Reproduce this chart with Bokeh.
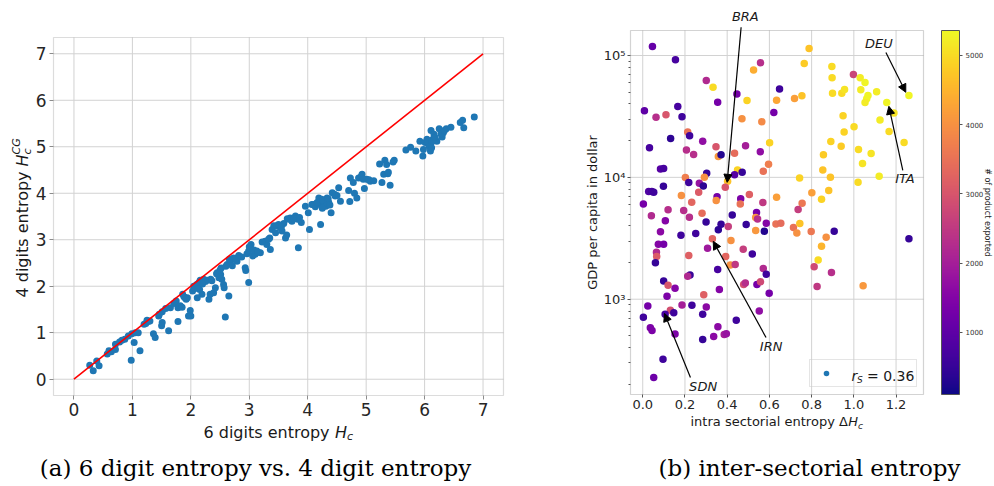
import math
from bokeh.plotting import figure
from bokeh.layouts import row
from bokeh.models import (ColumnDataSource, LinearColorMapper, ColorBar, FixedTicker,
                          Label, Arrow, NormalHead, Legend, LegendItem, Range1d,
                          CustomJSTickFormatter, BoxAnnotation)
from bokeh.palettes import Plasma256
from bokeh.embed import file_html
from bokeh.resources import INLINE

# ---------------- panel (a): 6 digit vs 4 digit entropy ----------------
hc6 = [0.27, 0.33, 0.39, 0.43, 0.57, 0.60, 0.71, 0.71, 0.87, 0.93, 0.99, 1.03, 0.98, 1.05,
       1.10, 1.13, 1.20, 1.25, 1.30, 1.36, 1.39, 1.45, 1.51, 1.51, 1.50, 1.62, 1.65, 1.71,
       1.75, 1.78, 1.78, 1.82, 1.86, 1.90, 1.85, 1.94, 1.96, 2.00, 1.99, 2.03, 2.06, 2.10,
       2.14, 2.16, 2.19, 2.11, 2.15, 2.22, 2.28, 2.31, 2.33, 2.34, 2.39, 2.42, 2.45, 2.48,
       2.51, 2.53, 2.52, 2.56, 2.57, 2.59, 2.65, 2.62, 2.68, 2.71, 2.73, 2.79, 2.87, 2.93,
       2.94, 2.96, 2.99, 2.99, 3.03, 3.06, 3.10, 3.13, 3.19, 3.27, 3.30, 3.35, 3.36, 3.39,
       3.42, 3.45, 3.47, 3.53, 3.56, 3.59, 3.62, 3.64, 3.65, 3.70, 3.73, 3.79, 3.83, 3.84,
       3.89, 3.96, 4.01, 4.03, 4.07, 4.13, 4.19, 4.21, 4.22, 4.24, 4.27, 4.30, 4.33, 4.36,
       4.40, 4.42, 4.47, 4.53, 4.56, 4.70, 4.72, 4.73, 4.78, 4.80, 4.84, 4.87, 4.93, 4.97,
       5.01, 5.07, 5.13, 5.23, 5.27, 5.30, 5.32, 5.35, 5.37, 5.41, 5.46, 5.48, 5.68, 5.76,
       5.85, 5.92, 5.97, 5.98, 6.01, 6.04, 6.07, 6.10, 6.11, 6.14, 6.16, 6.21, 6.25, 6.30,
       6.32, 6.37, 6.45, 6.61, 6.65, 6.67, 6.85,
       2.25, 2.36, 2.44, 2.50, 2.60, 2.66, 2.77, 2.82, 3.00, 3.08, 3.15, 3.22, 3.33, 3.50,
       3.55, 3.68, 3.77, 3.86, 4.10, 4.16, 4.26, 4.31, 4.35, 4.38, 4.25, 4.50, 4.46, 4.92,
       4.95, 5.05, 5.38, 6.05, 6.12, 6.18, 6.28, 6.34, 6.08, 6.12, 1.88, 1.92, 2.05, 2.12,
       2.20, 1.23, 1.27, 0.78, 0.82, 1.46, 1.57, 0.64]
hc4 = [0.30, 0.18, 0.39, 0.29, 0.54, 0.61, 0.64, 0.75, 0.86, 0.93, 0.98, 0.79, 0.41, 1.00,
       1.00, 0.61, 1.18, 1.27, 1.25, 0.98, 0.90, 1.36, 1.45, 1.22, 1.15, 1.04, 1.54, 1.63,
       1.68, 1.24, 1.54, 1.58, 1.83, 1.75, 1.55, 1.75, 1.36, 1.36, 1.48, 1.90, 1.97, 2.04,
       2.08, 2.13, 1.83, 1.75, 1.93, 2.15, 2.13, 1.72, 1.83, 2.15, 1.86, 1.97, 2.29, 2.18,
       2.25, 2.15, 2.39, 2.04, 1.97, 1.34, 1.79, 2.47, 2.54, 2.44, 2.61, 2.54, 2.63, 2.40,
       2.34, 2.70, 2.76, 2.08, 2.90, 2.65, 2.69, 2.76, 2.72, 2.97, 2.90, 3.04, 2.79, 3.22,
       3.30, 3.15, 3.30, 3.26, 3.19, 3.35, 3.04, 3.10, 3.45, 3.47, 3.40, 3.51, 3.44, 2.83,
       3.37, 3.72, 3.58, 3.22, 3.76, 3.71, 3.90, 3.76, 3.33, 3.87, 3.80, 3.76, 3.90, 3.80,
       3.58, 4.01, 3.94, 4.12, 3.83, 4.06, 3.82, 4.33, 4.23, 4.00, 3.90, 4.33, 4.41, 4.10,
       4.30, 4.26, 4.27, 4.63, 4.23, 4.41, 4.71, 4.62, 4.42, 4.17, 4.67, 4.71, 4.93, 4.99,
       4.91, 5.12, 4.80, 4.94, 5.09, 5.16, 5.05, 4.91, 5.35, 5.16, 5.27, 5.12, 5.39, 5.21,
       5.30, 5.39, 5.42, 5.52, 5.57, 5.41, 5.64,
       2.10, 2.12, 2.27, 2.35, 2.43, 2.58, 2.60, 2.66, 2.85, 2.78, 2.73, 2.95, 3.01, 3.33,
       3.28, 3.44, 3.45, 3.48, 3.76, 3.80, 3.85, 3.72, 3.88, 3.75, 3.68, 3.95, 3.98, 4.37,
       4.30, 4.29, 4.45, 5.12, 5.10, 5.20, 5.28, 5.35, 5.00, 4.98, 1.78, 1.72, 2.00, 1.95,
       2.05, 1.20, 1.24, 0.80, 0.84, 1.40, 1.52, 0.59]
diag = [0, 7]
ticks_a = [0, 1, 2, 3, 4, 5, 6, 7]

# ---------------- panel (b): inter-sectorial entropy ----------------
dh = [0.046, 0.155, 0.558, 0.525, 0.301, 0.333, 0.446, 0.355, 0.494, 0.648, 0.634, 0.621,
      0.008, 0.063, 0.110, 0.166, 0.186, 0.470, 0.564, 0.213, 0.222, 0.132, 0.284, 0.032,
      0.207, 0.241, 0.347, 0.358, 0.371, 0.435, 0.487, 0.557, 0.601, 0.449, 0.596, 0.571,
      0.084, 0.099, 0.303, 0.202, 0.292, 0.218, 0.268, 0.287, 0.098, 0.028, 0.043, 0.052,
      0.265, 0.183, 0.352, 0.348, 0.464, 0.505, 0.569, 0.462, 0.232, 0.003, 0.120, 0.194,
      0.041, 0.221, 0.281, 0.107, 0.300, 0.424, 0.539, 0.535, 0.544, 0.585, 0.631, 0.084,
      0.181, 0.251, 0.371, 0.358, 0.405, 0.490, 0.535, 0.576, 0.330, 0.307, 0.418, 0.476,
      0.519, 0.074, 0.099, 0.065, 0.066, 0.218, 0.060, 0.355, 0.393, 0.415, 0.438, 0.571,
      0.585, 0.224, 0.213, 0.099, 0.120, 0.153, 0.363, 0.478, 0.486, 0.541, 0.558, 0.115,
      0.289, 0.599, 0.024, 0.186, 0.233, 0.301, 0.131, 0.147, 0.106, 0.003, 0.284, 0.552,
      0.443, 0.036, 0.044, 0.356, 0.153, 0.284, 0.336, 0.386, 0.396, 0.096, 0.052,
      0.788, 0.765, 0.896, 0.897, 0.998, 1.030, 1.053, 0.719, 0.754, 0.899, 0.943, 0.956,
      1.033, 1.067, 1.061, 1.053, 1.108, 1.156, 1.190, 1.261, 1.124, 1.167, 1.238, 0.949,
      0.954, 1.001, 0.891, 0.940, 1.022, 1.041, 1.082, 0.856, 0.853, 0.889, 0.743, 1.020,
      1.120, 0.881, 0.847, 0.801, 0.755, 0.736, 0.634, 0.654, 0.714, 0.730, 0.744, 0.798,
      0.907, 0.869, 0.847, 0.831, 0.812, 0.894, 0.826, 1.044, 1.261, 0.402, 0.391, 0.435,
      0.471]
gdp = [118600, 92100, 87100, 76200, 62400, 55000, 48400, 41400, 42700, 53200, 43000, 34000,
       35200, 31200, 32600, 38100, 31500, 30200, 28600, 23600, 21900, 20800, 19800, 17500,
       16800, 15400, 17800, 14800, 15300, 15800, 18200, 16200, 19200, 11500, 12800, 11200,
       11700, 11800, 10800, 9970, 10000, 9070, 8960, 8510, 8470, 7660, 7660, 7560,
       7560, 7100, 6920, 6460, 6660, 7230, 6210, 6050, 6250, 6050, 5410, 5340,
       4830, 4710, 5080, 4400, 4310, 4920, 5140, 4680, 4560, 4200, 4150, 3570,
       3350, 3460, 4130, 3710, 3950, 4100, 3660, 3620, 3130, 2620, 3030, 2570,
       2350, 2830, 2830, 2430, 2240, 2280, 1990, 1750, 2240, 1910, 1930, 1790,
       1600, 1580, 1540, 1410, 1300, 1230, 1200, 1320, 1360, 1320, 1390, 1060,
       1090, 1120, 881, 898, 893, 865, 813, 773, 753, 712, 753, 801,
       673, 582, 553, 593, 519, 467, 494, 513, 520, 322, 228,
       114100, 85900, 81200, 65700, 69800, 65700, 60000, 44400, 46700, 49100, 49100, 52600,
       52300, 47000, 44100, 41100, 50400, 41100, 33700, 47000, 29600, 23800, 19300, 32000,
       23600, 26000, 19700, 18000, 16900, 13000, 15700, 15300, 11500, 10000, 9900, 9130,
       10200, 7800, 6620, 7460, 6140, 5450, 6870, 4210, 3870, 3500, 4180, 3590,
       3610, 3230, 2720, 2100, 1850, 1660, 1270, 1290, 3130, 9310, 8300, 10500,
       11000]
n_products = [1100, 700, 2300, 4400, 2200, 5000, 1300, 1300, 4900, 600, 4300, 1300,
              1000, 2300, 3000, 700, 600, 4000, 3900, 3500, 600, 400, 1700, 700,
              2300, 2300, 3000, 4100, 300, 3400, 2000, 1700, 4900, 4900, 3700, 3500,
              900, 700, 500, 3700, 4000, 600, 1800, 400, 500, 800, 700, 600,
              3100, 4000, 1300, 4000, 1400, 3200, 2500, 3500, 3300, 1300, 2300, 2300,
              2200, 2300, 3400, 1500, 500, 500, 1300, 4100, 2300, 1500, 3500, 1600,
              600, 600, 500, 400, 2600, 500, 4100, 300, 3300, 1900, 4000, 2600,
              600, 1500, 1300, 2200, 3100, 3200, 500, 700, 3300, 4000, 2500, 2200,
              600, 500, 2200, 500, 3000, 1500, 1500, 2900, 2300, 1300, 2800, 1400,
              3200, 1300, 1300, 2000, 600, 1600, 2900, 600, 700, 600, 600, 1700,
              600, 1400, 1400, 1600, 1400, 500, 1600, 2000, 1800, 600, 1200,
              4700, 4800, 5000, 5000, 2700, 5200, 5300, 4200, 4700, 5000, 5000, 5100,
              5200, 5300, 5300, 5200, 5200, 5300, 5100, 5300, 5200, 5000, 5000, 4900,
              4900, 5000, 4900, 4800, 5000, 5100, 5100, 4800, 4700, 4700, 4900, 5000,
              5200, 4700, 4900, 4200, 3600, 2600, 4200, 3400, 3500, 4000, 4700, 3600,
              500, 4000, 4500, 5000, 2800, 2300, 2500, 4100, 500, 4700, 3000, 900,
              500]
ticks_b = [0.0, 0.2, 0.4, 0.6, 0.8, 1.0, 1.2]
decades = [1e3, 1e4, 1e5]
cbar_ticks = [1000, 2000, 3000, 4000, 5000]
rs_text = "= 0.36"

# country call-outs: label, text position, arrow tail, arrow tip
callouts = [
    ("BRA", (0.486, 210000), (0.466, 170600), (0.400, 9100)),
    ("DEU", (1.119, 126000), (1.152, 106000), (1.246, 49900)),
    ("ITA", (1.242, 9810), (1.232, 11400), (1.166, 38300)),
    ("IRN", (0.608, 409), (0.584, 485), (0.334, 2985)),
    ("SDN", (0.286, 192), (0.226, 228), (0.103, 764)),
]

SANS = "DejaVu Sans"
SERIF = "DejaVu Serif"
INK = "#1a1a1a"
GRID = "#d2d2d2"

# ---- canvas geometry: each figure's drawing area spans its whole canvas and the
# ---- axes box sits inside it, so the surrounding texts are never cut off
A_W, A_H = 520, 486
A_BOX = (53, 503, 37, 395)            # left, right, top, bottom (px)
A_X, A_Y = (-0.35, 7.35), (-0.35, 7.35)
a_dx = (A_X[1] - A_X[0]) / (A_BOX[1] - A_BOX[0])
a_dy = (A_Y[1] - A_Y[0]) / (A_BOX[3] - A_BOX[2])
a_xr = Range1d(A_X[0] - A_BOX[0] * a_dx, A_X[1] + (A_W - A_BOX[1]) * a_dx)
a_yr = Range1d(A_Y[0] - (A_H - A_BOX[3]) * a_dy, A_Y[1] + A_BOX[2] * a_dy)

B_OFF = A_W                            # page x where figure (b) starts
B_W, B_H = 994 - A_W, 486
B_BOX = (110, 403, 30, 394)
B_X, B_LY = (-0.058, 1.330), (math.log10(165.2), math.log10(160400))
b_dx = (B_X[1] - B_X[0]) / (B_BOX[1] - B_BOX[0])
b_dly = (B_LY[1] - B_LY[0]) / (B_BOX[3] - B_BOX[2])
b_xr = Range1d(B_X[0] - B_BOX[0] * b_dx, B_X[1] + (B_W - B_BOX[1]) * b_dx)
b_yr = Range1d(10 ** (B_LY[0] - (B_H - B_BOX[3]) * b_dly), 10 ** (B_LY[1] + B_BOX[2] * b_dly))


def a_at(px, py):
    return a_xr.start + px * a_dx, a_yr.end - py * a_dy


def b_at(px, py):
    return b_xr.start + (px - B_OFF) * b_dx, 10 ** (math.log10(b_yr.end) - py * b_dly)


def put(p, xy, text, size, style="normal", align="left", baseline="middle",
        angle=0.0, font=SANS, color=INK, level="annotation"):
    p.add_layout(Label(x=xy[0], y=xy[1], text=text, text_font=font,
                       text_font_size=f"{size}px", text_font_style=style,
                       text_align=align, text_baseline=baseline, angle=angle,
                       text_color=color, level=level))


# ---------------- figure (a) ----------------
pa = figure(frame_width=A_W, frame_height=A_H, min_border=0, x_range=a_xr, y_range=a_yr,
            frame_align=False, output_backend="svg", toolbar_location=None)
pa.grid.visible = False
pa.outline_line_color = None
pa.segment(x0=ticks_a, y0=A_Y[0], x1=ticks_a, y1=A_Y[1], line_color=GRID, line_width=1)
pa.segment(x0=A_X[0], y0=ticks_a, x1=A_X[1], y1=ticks_a, line_color=GRID, line_width=1)
pa.scatter(hc6, hc4, size=7, fill_color="#1f77b4", line_color=None)
pa.line(diag, diag, line_color="red", line_width=1.6)
pa.add_layout(BoxAnnotation(left=A_X[0], right=A_X[1], bottom=A_Y[0], top=A_Y[1],
                            fill_alpha=0, line_color="#8c8c8c", line_width=1.2))

pa.xaxis.fixed_location = A_Y[0]
pa.yaxis.fixed_location = A_X[0]
for ax in (pa.xaxis[0], pa.yaxis[0]):
    ax.ticker = FixedTicker(ticks=ticks_a)
    ax.major_label_text_font = SANS
    ax.major_label_text_font_size = "17px"
    ax.major_label_text_color = "#262626"
    ax.axis_line_color = None
    ax.major_tick_line_color = "#8c8c8c"
    ax.major_tick_out = 4
    ax.major_tick_in = 0
    ax.minor_tick_line_color = None
    ax.major_label_standoff = 3

# x label: 6 digits entropy H_c
put(pa, a_at(203, 432), "6 digits entropy", 16)
put(pa, a_at(334.4, 432), "H", 16, style="italic")
put(pa, a_at(346.5, 436), "c", 11, style="italic")
# y label: 4 digits entropy H_c^CG (rotated)
put(pa, a_at(22, 297), "4 digits entropy", 16, angle=math.pi / 2)
put(pa, a_at(22, 166), "H", 16, style="italic", angle=math.pi / 2)
put(pa, a_at(27, 154), "c", 11, style="italic", angle=math.pi / 2)
put(pa, a_at(16, 154), "CG", 11, style="italic", angle=math.pi / 2)
# caption
put(pa, a_at(255, 467), "(a) 6 digit entropy vs. 4 digit entropy", 23, align="center",
    font=SERIF, color="#000000")

# ---------------- figure (b) ----------------
mapper = LinearColorMapper(palette=Plasma256, low=100, high=5360)
src = ColumnDataSource(dict(x=dh, y=gdp, n=n_products))

pb = figure(frame_width=B_W, frame_height=B_H, min_border=0, x_range=b_xr, y_range=b_yr,
            y_axis_type="log", frame_align=False, output_backend="svg",
            toolbar_location=None)
pb.grid.visible = False
pb.outline_line_color = None
y_lo, y_hi = 10 ** B_LY[0], 10 ** B_LY[1]
pb.segment(x0=ticks_b, y0=y_lo, x1=ticks_b, y1=y_hi, line_color=GRID, line_width=1)
pb.segment(x0=B_X[0], y0=decades, x1=B_X[1], y1=decades, line_color=GRID, line_width=1)
pb.scatter("x", "y", source=src, size=7.5,
           fill_color={"field": "n", "transform": mapper}, line_color=None)
pb.add_layout(BoxAnnotation(left=B_X[0], right=B_X[1], bottom=y_lo, top=y_hi,
                            fill_alpha=0, line_color="#6e6e6e", line_width=1.2))

pb.xaxis.fixed_location = y_lo
pb.yaxis.fixed_location = B_X[0]
pb.xaxis.ticker = FixedTicker(ticks=ticks_b)
pb.yaxis.ticker = FixedTicker(ticks=decades,
                              minor_ticks=[m * 10 ** e for e in (2, 3, 4, 5) for m in range(2, 10)
                                           if y_lo <= m * 10 ** e <= y_hi])
pb.yaxis.formatter = CustomJSTickFormatter(code="""
const sup = {'0':'\u2070','1':'\u00b9','2':'\u00b2','3':'\u00b3','4':'\u2074',
             '5':'\u2075','6':'\u2076','7':'\u2077','8':'\u2078','9':'\u2079'};
const e = Math.round(Math.log10(tick));
return '10' + String(e).split('').map(c => sup[c]).join('');
""")
pb.xaxis.formatter = CustomJSTickFormatter(code="return tick.toFixed(1);")
for ax in (pb.xaxis[0], pb.yaxis[0]):
    ax.major_label_text_font = SANS
    ax.major_label_text_font_size = "13px"
    ax.major_label_text_color = "#262626"
    ax.axis_line_color = None
    ax.major_tick_line_color = "#555555"
    ax.major_tick_out = 3
    ax.major_tick_in = 0
    ax.major_label_standoff = 2
pb.xaxis.minor_tick_line_color = None
pb.yaxis.minor_tick_line_color = "#555555"
pb.yaxis.minor_tick_out = 2
pb.yaxis.minor_tick_in = 0

# axis titles
put(pb, b_at(592, 212), "GDP per capita in dollar", 13, align="center", angle=math.pi / 2)
put(pb, b_at(690, 421), "intra sectorial entropy \u0394", 13)
put(pb, b_at(847.7, 421), "H", 13, style="italic")
put(pb, b_at(857.5, 425), "c", 9, style="italic")

# country call-outs
for name, (tx, ty), (ax0, ay0), (ax1, ay1) in callouts:
    pb.add_layout(Arrow(x_start=ax0, y_start=ay0, x_end=ax1, y_end=ay1,
                        line_color="black", line_width=1.2,
                        end=NormalHead(size=8, fill_color="black", line_color="black")))
    put(pb, (tx, ty), name, 13, style="italic", align="center")

# legend with Spearman coefficient
dot = pb.scatter([-10], [1000], size=9, fill_color="#1f77b4", line_color=None)
leg = Legend(items=[LegendItem(label=" ", renderers=[dot])],
             location=(809 - B_OFF, B_H - 387),
             padding=6, margin=0, glyph_width=20, glyph_height=14, label_height=14,
             label_width=70, label_standoff=4, spacing=0,
             border_line_color="#cccccc", border_line_width=1,
             background_fill_alpha=0.0)
pb.add_layout(leg)
put(pb, b_at(851, 375), "r", 14, style="italic")
put(pb, b_at(856.5, 379), "S", 9, style="italic")
put(pb, b_at(866.5, 375), rs_text, 14)

# colour bar
cbar = ColorBar(color_mapper=mapper, ticker=FixedTicker(ticks=cbar_ticks),
                width=18, height=B_BOX[3] - B_BOX[2], padding=0, margin=0,
                location=(941 - B_OFF, B_H - B_BOX[3]),
                bar_line_color="#555555", bar_line_width=1,
                major_tick_in=0, major_tick_out=3, major_tick_line_color="#555555",
                minor_tick_line_color=None,
                major_label_text_font=SANS, major_label_text_font_size="7px",
                major_label_text_color="#333333", label_standoff=3,
                background_fill_color=None)
pb.add_layout(cbar)
put(pb, b_at(987, 212), "# of product exported", 8, align="center", angle=-math.pi / 2)

# caption
put(pb, b_at(809, 467), "(b) inter-sectorial entropy", 23, align="center", font=SERIF,
    color="#000000")

layout = row(pa, pb)
open("out.html", "w").write(file_html(layout, INLINE))
